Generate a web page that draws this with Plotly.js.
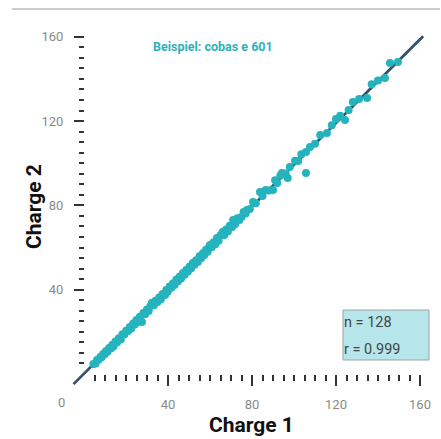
<!DOCTYPE html>
<html>
<head>
<meta charset="utf-8">
<script src="https://cdn.plot.ly/plotly-3.0.1.min.js"></script>
<style>html,body{margin:0;padding:0;background:#fff;}#chart{width:441px;height:439px;}</style>
</head>
<body>
<div id="chart"></div>
<script>
// Charge 1 (x) and Charge 2 (y) measurements
var charge1 = [
  4.5,5.5,6.2,7.0,7.8,8.4,9.1,9.8,10.5,11.2,12.0,12.8,13.5,14.1,15.0,15.8,16.6,17.5,18.3,19.2,
  20.1,21.0,21.8,22.5,23.4,24.2,25.0,25.9,26.6,27.6,28.3,29.1,30.0,30.8,31.6,32.4,33.3,34.1,35.0,35.8,36.6,37.4,38.6,39.2,39.9,
  40.8,41.6,42.4,43.1,44.0,44.8,45.6,46.3,47.1,47.9,48.7,49.5,50.3,51.0,51.8,52.6,53.4,54.2,55.0,55.8,56.6,57.3,58.1,58.9,59.6,
  60.0,60.8,61.7,62.5,63.3,64.1,65.0,66.0,66.8,67.7,68.5,69.4,70.5,71.0,72.0,73.0,74.0,75.0,76.0,77.0,77.6,79.0,
  80.5,81.8,83.8,85.0,86.5,88.0,90.0,91.0,92.0,93.5,94.3,96.0,97.0,98.0,
  100.5,102.0,103.5,105.7,105.7,107.6,110.0,112.5,115.7,118.0,
  120.0,122.0,124.3,126.0,128.0,131.0,134.8,137.0,140.0,143.3,145.7,149.5
];
var charge2 = [
  4.8,5.0,6.6,6.8,8.1,8.0,9.5,9.4,10.9,10.6,12.3,12.1,13.9,13.2,15.4,15.1,17.0,16.4,18.8,18.7,
  20.5,20.4,22.3,21.6,23.9,23.5,25.6,24.8,27.1,24.7,28.9,28.4,30.6,29.9,32.2,33.8,32.6,34.7,34.2,36.3,35.5,38.0,37.5,39.9,39.1,
  41.5,40.9,43.0,42.2,44.8,44.0,46.2,45.4,47.9,47.1,49.3,48.6,51.0,50.2,52.6,51.8,54.0,53.1,55.8,54.9,57.3,56.5,58.9,58.0,60.4,
  61.2,60.1,62.5,61.6,64.5,63.2,65.8,67.4,65.9,68.5,67.6,70.3,69.7,73.0,71.2,73.9,73.1,74.5,76.9,76.1,77.8,78.3,
  81.6,81.0,86.3,84.5,87.3,87.1,87.3,91.9,90.6,94.2,95.3,95.1,93.0,98.2,
  101.2,101.0,104.3,105.3,95.3,107.7,109.2,113.4,114.3,118.0,
  121.0,122.5,120.5,125.2,129.0,130.5,130.9,137.5,139.2,140.4,147.5,148.0
];
// regression line end points
var fitX = [-5.0, 161.5];
var fitY = [-4.8, 160.2];

var majorTicks = [40, 80, 120, 160];
var majorLabels = ['40', '80', '120', '160'];
var minorTicks = [];
for (var t = 5; t < 160; t += 5) { if (t % 40 !== 0) minorTicks.push(t); }

var sampleLabel = 'Beispiel: cobas e 601';
var statN = 'n = 128';
var statR = 'r = 0.999';
var xTitle = 'Charge 1';
var yTitle = 'Charge 2';

// layout geometry (pixels)
var W = 441, H = 439, L = 66, R = 432, T = 30, B = 392;
function px(x) { return (x - L) / (R - L); }
function py(y) { return (B - y) / (B - T); }

var tickFont = {family: 'Roboto, Liberation Sans, Arial, sans-serif', size: 13, color: '#8a8a8a'};

var traces = [
  {
    x: fitX, y: fitY, type: 'scatter', mode: 'lines',
    line: {color: '#34506a', width: 2.8},
    hoverinfo: 'skip', showlegend: false
  },
  {
    x: charge1, y: charge2, type: 'scatter', mode: 'markers',
    marker: {color: '#25b3bd', size: 8, line: {width: 0}},
    hoverinfo: 'skip', showlegend: false
  }
];

var layout = {
  width: W, height: H,
  margin: {l: L, r: W - R, t: T, b: H - B, pad: 0},
  paper_bgcolor: '#ffffff', plot_bgcolor: 'rgba(0,0,0,0)',
  showlegend: false,
  xaxis: {
    range: [-8.571, 165.714], anchor: 'free', position: py(374),
    showgrid: false, zeroline: false, showline: false,
    tickmode: 'array', tickvals: majorTicks, ticktext: majorLabels,
    ticks: 'outside', ticklen: 11, tickwidth: 2, tickcolor: '#333',
    tickfont: tickFont, ticklabelstandoff: 7,
    minor: {tickmode: 'array', tickvals: minorTicks, ticks: 'outside', ticklen: 6, tickwidth: 2, tickcolor: '#333', showgrid: false}
  },
  yaxis: {
    range: [-8.54, 163.19], anchor: 'free', position: px(84),
    showgrid: false, zeroline: false, showline: false,
    tickmode: 'array', tickvals: majorTicks, ticktext: majorLabels,
    ticks: 'outside', ticklen: 10, tickwidth: 2, tickcolor: '#333',
    tickfont: tickFont, ticklabelstandoff: 8,
    minor: {tickmode: 'array', tickvals: minorTicks, ticks: 'outside', ticklen: 5, tickwidth: 2, tickcolor: '#333', showgrid: false}
  },
  shapes: [
    {type: 'line', xref: 'paper', yref: 'paper', x0: px(12), x1: px(440), y0: py(9), y1: py(9),
     line: {color: '#9a9a9a', width: 1}},
    {type: 'rect', xref: 'paper', yref: 'paper', x0: px(343), x1: px(429), y0: py(360), y1: py(310),
     fillcolor: '#b6e6e9', line: {color: '#a0a0a0', width: 1}}
  ],
  annotations: [
    {text: '0', xref: 'paper', yref: 'paper', x: px(61), y: py(402), showarrow: false,
     xanchor: 'center', yanchor: 'middle', font: tickFont},
    {text: '<b>' + sampleLabel + '</b>', xref: 'paper', yref: 'paper', x: px(213), y: py(46), showarrow: false,
     xanchor: 'center', yanchor: 'middle',
     font: {family: 'Roboto, Liberation Sans, Arial, sans-serif', size: 12.5, color: '#2fb0b9'}},
    {text: statN, xref: 'paper', yref: 'paper', x: px(342), y: py(322), showarrow: false,
     xanchor: 'left', yanchor: 'middle',
     font: {family: 'Roboto, Liberation Sans, Arial, sans-serif', size: 14.5, color: '#444'}},
    {text: statR, xref: 'paper', yref: 'paper', x: px(342), y: py(349), showarrow: false,
     xanchor: 'left', yanchor: 'middle',
     font: {family: 'Roboto, Liberation Sans, Arial, sans-serif', size: 14.5, color: '#444'}},
    {text: '<b>' + xTitle + '</b>', xref: 'paper', yref: 'paper', x: px(251), y: py(425), showarrow: false,
     xanchor: 'center', yanchor: 'middle',
     font: {family: 'Roboto, Liberation Sans, Arial, sans-serif', size: 21, color: '#111'}},
    {text: '<b>' + yTitle + '</b>', xref: 'paper', yref: 'paper', x: px(34), y: py(207), showarrow: false,
     xanchor: 'center', yanchor: 'middle', textangle: -90,
     font: {family: 'Roboto, Liberation Sans, Arial, sans-serif', size: 21, color: '#111'}}
  ]
};

Plotly.newPlot('chart', traces, layout, {staticPlot: true, displayModeBar: false});
</script>
</body>
</html>
